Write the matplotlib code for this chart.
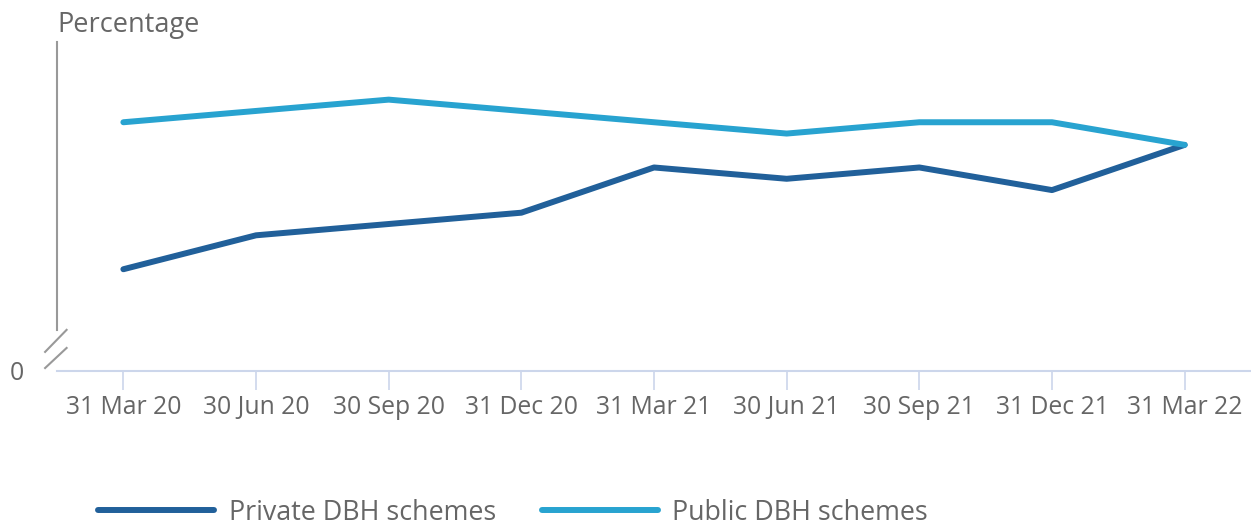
import matplotlib
matplotlib.use("Agg")
import matplotlib.pyplot as plt

# quarter-end dates and values (y axis has no scale, only 0)
quarters = ["31 Mar 20", "30 Jun 20", "30 Sep 20", "31 Dec 20", "31 Mar 21",
            "30 Jun 21", "30 Sep 21", "31 Dec 21", "31 Mar 22"]
private_dbh = [9, 12, 13, 14, 18, 17, 18, 16, 20]
public_dbh = [22, 23, 24, 23, 22, 21, 22, 22, 20]

dark_blue = "#21609a"
light_blue = "#28a3d0"
grey_text = "#666666"

plt.rcParams["font.family"] = ["Open Sans", "DejaVu Sans"]

fig = plt.figure(figsize=(12.51, 5.26), dpi=100)
ax = fig.add_axes([0.0456, 0.2947, 0.9544, 0.6255])

x = list(range(len(quarters)))
ax.plot(x, private_dbh, color=dark_blue, lw=4.3, solid_capstyle="round",
        solid_joinstyle="round", label="Private DBH schemes")
ax.plot(x, public_dbh, color=light_blue, lw=4.3, solid_capstyle="round",
        solid_joinstyle="round", label="Public DBH schemes")

ax.set_xlim(-0.5, 8.5)
ax.set_ylim(0, 29.1)

for s in ["top", "right", "left"]:
    ax.spines[s].set_visible(False)
ax.spines["bottom"].set_color("#ccd6eb")
ax.spines["bottom"].set_linewidth(1.5)

ax.set_xticks(x)
ax.set_xticklabels(quarters, fontsize=17.8, color=grey_text)
ax.tick_params(axis="x", length=14, width=1.2, color="#ccd6eb", pad=3)
ax.set_yticks([0])
ax.set_yticklabels(["0"], fontsize=17.8, color=grey_text)
ax.tick_params(axis="y", length=0, pad=24)

# broken y axis line plus the two break marks
ax.plot([0, 0], [0.125, 1.0], transform=ax.transAxes, color="#999999",
        lw=1.5, clip_on=False)
ax.plot([-0.010, 0.008], [0.058, 0.125], transform=ax.transAxes,
        color="#999999", lw=1.5, clip_on=False)
ax.plot([-0.010, 0.008], [0.009, 0.070], transform=ax.transAxes,
        color="#999999", lw=1.5, clip_on=False)

fig.text(0.046, 0.953, "Percentage", fontsize=19.5, color=grey_text,
         ha="left", va="center")

fig.legend(loc="center", bbox_to_anchor=(0.41, 0.025), ncol=2, frameon=False,
           fontsize=19.4, labelcolor=grey_text, handlelength=4.33,
           handletextpad=0.52, columnspacing=1.7, borderpad=0.1)

fig.savefig("out.png", dpi=100)
